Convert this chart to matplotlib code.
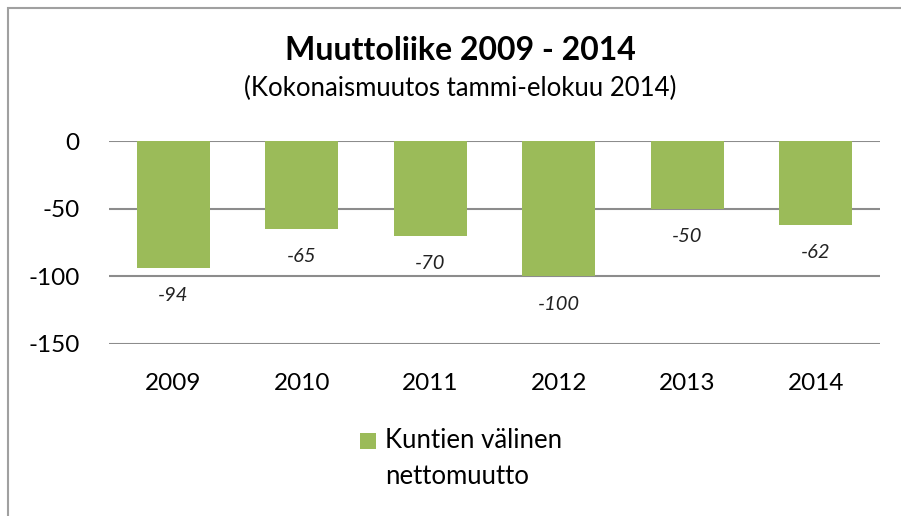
import numpy as np
import matplotlib.pyplot as plt
from matplotlib.patches import Rectangle

# -- data
years = ['2009', '2010', '2011', '2012', '2013', '2014']
netMigration = [-94, -65, -70, -100, -50, -62]
seriesName = 'Kuntien välinen\nnettomuutto'

barColor = '#9BBB59'
gridColor = '#8c8c8c'

plt.rcParams['font.family'] = ['Lato', 'DejaVu Sans']
plt.rcParams['axes.unicode_minus'] = False

W, H = 901, 516
fig = plt.figure(figsize=(W/100., H/100.), dpi=100)

# -- chart border
fig.patches.append(Rectangle((8./W, -0.1), 1.2, 1 - 8./H + 0.1, transform=fig.transFigure,
                             fill=False, edgecolor='#a0a0a0', linewidth=1.5))

ax = fig.add_axes([109./W, 1 - 344./H, (880. - 109.)/W, (344. - 141.)/H])

x = np.arange(len(years))
bars = ax.bar(x, netMigration, width=0.57, color=barColor, zorder=3)

ax.set_ylim(-150, 0)
ax.set_xlim(-0.5, len(years) - 0.5)
ax.set_yticks([0, -50, -100, -150])
ax.yaxis.grid(True, color=gridColor, linewidth=1.5, zorder=0)
for s in ax.spines.values():
    s.set_visible(False)
ax.tick_params(axis='both', length=0, labelsize=17.5)
ax.tick_params(axis='y', pad=21)
ax.tick_params(axis='x', pad=21)
ax.set_xticks(x)
ax.set_xticklabels(years)

for xi, v in zip(x, netMigration):
    ax.annotate('%d' % v, (xi, v), xytext=(0, -20), textcoords='offset points',
                ha='center', va='center', fontsize=14.5, style='italic', color='#222222')

fig.text(460./W, 1 - 50./H, 'Muuttoliike 2009 - 2014', ha='center', va='center',
         fontsize=23, fontweight='bold')
fig.text(460./W, 1 - 88./H, '(Kokonaismuutos tammi-elokuu 2014)', ha='center', va='center',
         fontsize=18.5)

# -- legend
fig.patches.append(Rectangle((360./W, 1 - 449./H), 16./W, 16./H, transform=fig.transFigure,
                             facecolor=barColor, edgecolor='none'))
fig.text(385./W, 1 - 428./H, seriesName, ha='left', va='top', fontsize=18.5, linespacing=1.55)

fig.savefig('out.png', dpi=100)
